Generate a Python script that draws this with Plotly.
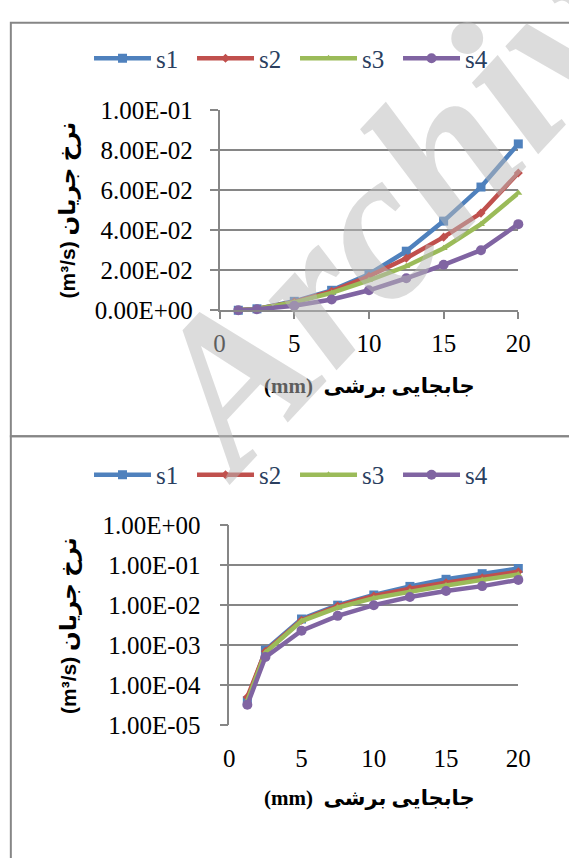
import plotly.graph_objects as go

# ---------------- data ----------------
x_mm = [1.25, 2.5, 5, 7.5, 10, 12.5, 15, 17.5, 20]
s1 = [4.0e-5, 7.5e-4, 4.5e-3, 1.0e-2, 1.8e-2, 2.95e-2, 4.45e-2, 6.15e-2, 8.3e-2]
s2 = [5.0e-5, 7.0e-4, 4.2e-3, 9.5e-3, 1.7e-2, 2.6e-2, 3.65e-2, 4.85e-2, 6.85e-2]
s3 = [4.0e-5, 6.5e-4, 4.0e-3, 8.7e-3, 1.5e-2, 2.2e-2, 3.1e-2, 4.3e-2, 5.85e-2]
s4 = [3.2e-5, 5.0e-4, 2.3e-3, 5.4e-3, 1.0e-2, 1.6e-2, 2.27e-2, 3.0e-2, 4.3e-2]
series_names = ["s1", "s2", "s3", "s4"]

x_ticks = [0, 5, 10, 15, 20]
lin_tickvals = [0, 0.02, 0.04, 0.06, 0.08, 0.1]
lin_ticktext = ["0.00E+00", "2.00E-02", "4.00E-02", "6.00E-02", "8.00E-02", "1.00E-01"]
log_tickvals = [1e-5, 1e-4, 1e-3, 1e-2, 1e-1, 1e0]
log_ticktext = ["1.00E-05", "1.00E-04", "1.00E-03", "1.00E-02", "1.00E-01", "1.00E+00"]

y_title = "(m³/s) <span style='font-size:23px'>نرخ جریان</span>"
x_title = "(mm)  جابجایی برشی"

# ---------------- styling ----------------
W, H = 569, 858
colors = ["#4F81BD", "#C0504D", "#9BBB59", "#8064A2"]
symbols = ["square", "diamond", "triangle-up", "circle"]
msizes = [9, 7, 7, 10]
GRID = "#868686"
SERIF = "'Liberation Serif', 'Times New Roman', Times, 'DejaVu Serif', serif"
FS = 25


def px_x(p):
    return p / W


def px_y(p):
    return 1 - p / H


series = [s1, s2, s3, s4]
fig = go.Figure()
for i, (name, vals) in enumerate(zip(series_names, series)):
    for k, (xa, ya, lg) in enumerate([("x", "y", "legend"), ("x2", "y2", "legend2")]):
        fig.add_trace(go.Scatter(
            x=x_mm, y=vals, name=name, mode="lines+markers",
            xaxis=xa, yaxis=ya, legend=lg,
            line=dict(color=colors[i], width=4.5),
            marker=dict(symbol=symbols[i], size=msizes[i], color=colors[i]),
            cliponaxis=False,
        ))

tickfont = dict(family=SERIF, size=FS, color="black")

top_xdom = [px_x(221), px_x(530)]
top_ydom = [px_y(307), px_y(100)]
bot_xdom = [px_x(231), px_x(530)]
bot_ydom = [px_y(735), px_y(529)]

legend_common = dict(orientation="h", x=px_x(299), xanchor="center",
                     yanchor="middle", font=dict(family=SERIF, size=FS),
                     itemwidth=57, entrywidth=31, entrywidthmode="pixels",
                     bgcolor="rgba(0,0,0,0)")

fig.update_layout(
    width=W, height=H,
    margin=dict(l=0, r=0, t=0, b=0),
    paper_bgcolor="white", plot_bgcolor="white",
    font=dict(family=SERIF),
    xaxis=dict(domain=top_xdom, anchor="y", range=[0, 20], tickvals=x_ticks,
               ticks="outside", ticklen=7, tickcolor=GRID, tickwidth=1.5,
               showline=True, linecolor=GRID, linewidth=1.5,
               showgrid=False, zeroline=False, tickfont=tickfont,
               ticklabelstandoff=3),
    yaxis=dict(domain=top_ydom, anchor="x", range=[0, 0.1],
               tickvals=lin_tickvals, ticktext=lin_ticktext,
               ticks="outside", ticklen=8, tickcolor=GRID, tickwidth=1.5,
               showline=True, linecolor=GRID, linewidth=1.5,
               showgrid=True, gridcolor=GRID, gridwidth=1.5,
               zeroline=False, tickfont=tickfont, ticklabelstandoff=12),
    xaxis2=dict(domain=bot_xdom, anchor="y2", range=[0, 20], tickvals=x_ticks,
                ticks="", showline=False, showgrid=False, zeroline=False,
                tickfont=tickfont, ticklabelstandoff=16),
    xaxis3=dict(overlaying="x2", anchor="y2", side="top", range=[0, 20],
                tickvals=x_ticks, ticks="outside", ticklen=7, tickcolor=GRID,
                tickwidth=1.5, showticklabels=False, showline=False,
                showgrid=False, zeroline=False),
    yaxis2=dict(domain=bot_ydom, anchor="x2", type="log", range=[-5, 0],
                tickvals=log_tickvals, ticktext=log_ticktext,
                ticks="outside", ticklen=8, tickcolor=GRID, tickwidth=1.5,
                showline=True, linecolor=GRID, linewidth=1.5,
                showgrid=True, gridcolor=GRID, gridwidth=1.5,
                zeroline=False, tickfont=tickfont, ticklabelstandoff=14),
    legend=dict(y=px_y(47), **legend_common),
    legend2=dict(y=px_y(477), **legend_common),
    showlegend=True,
)

# panel borders
for (y0, y1) in [(10, 437), (437, 880)]:
    fig.add_shape(type="rect", xref="paper", yref="paper",
                  x0=px_x(5), x1=px_x(590), y0=px_y(y1), y1=px_y(y0),
                  line=dict(color=GRID, width=2), fillcolor="rgba(0,0,0,0)",
                  layer="below")

title_font = dict(family="'Liberation Sans', Arial, 'DejaVu Sans', sans-serif",
                  size=21, color="black", weight="bold")
xt_font = dict(family="'Liberation Serif', 'Times New Roman', 'DejaVu Sans', serif",
               size=21, color="black", weight="bold")
annots = [
    dict(text=y_title, x=px_x(64), y=px_y(203), textangle=-90, font=title_font),
    dict(text=x_title, x=px_x(376), y=px_y(385), font=xt_font),
    dict(text=y_title, x=px_x(64), y=px_y(632), textangle=-90, font=title_font),
    dict(text=x_title, x=px_x(376), y=px_y(810), font=xt_font),
]
for a in annots:
    fig.add_annotation(xref="paper", yref="paper", showarrow=False,
                       xanchor="center", yanchor="middle", **a)

# watermark
fig.add_annotation(text="Archive", xref="paper", yref="paper",
                   x=px_x(422), y=px_y(175), showarrow=False, textangle=-47,
                   xanchor="center", yanchor="middle",
                   font=dict(family=SERIF, size=212, color="rgba(185,185,185,0.5)",
                             weight="bold", style="italic"))

fig.write_html("out.html")
